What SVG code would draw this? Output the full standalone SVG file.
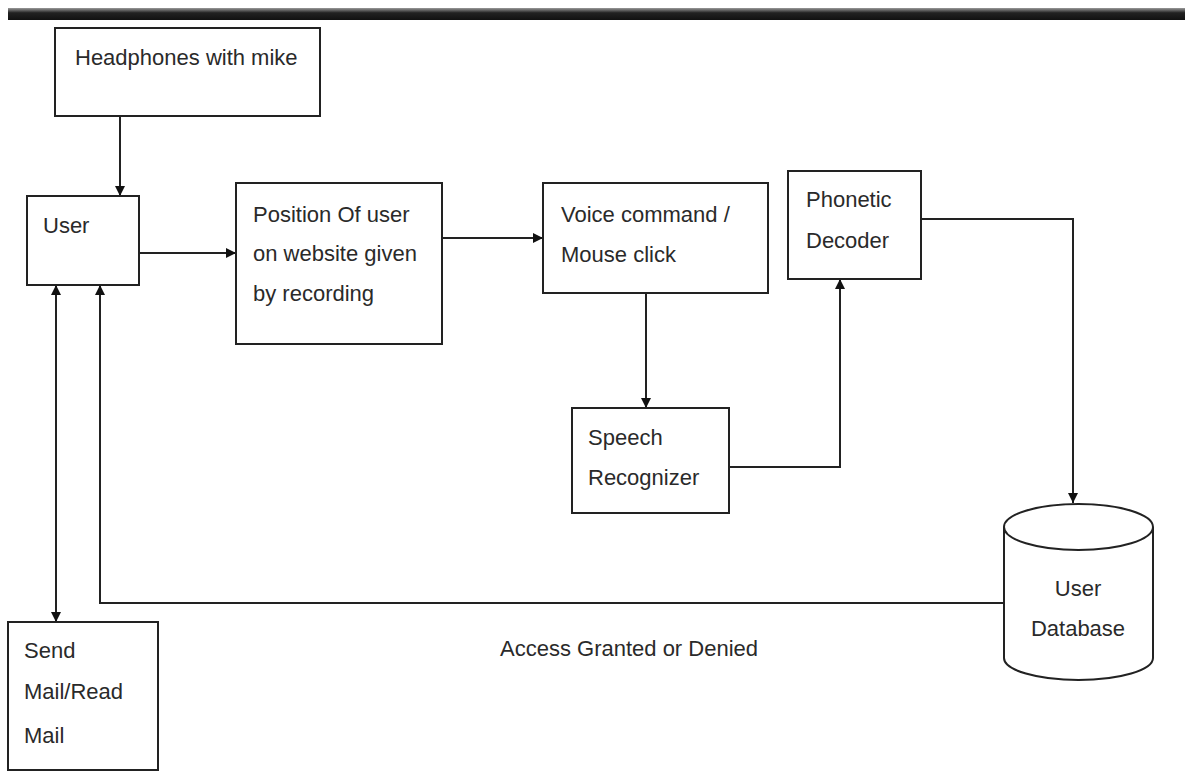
<svg xmlns="http://www.w3.org/2000/svg" width="1185" height="773" viewBox="0 0 1185 773">
<defs>
<linearGradient id="bar" x1="0" y1="0" x2="0" y2="1">
<stop offset="0" stop-color="#9a9a9a"/>
<stop offset="0.4" stop-color="#222"/>
<stop offset="1" stop-color="#111"/>
</linearGradient>
<marker id="ah" viewBox="0 0 10 10" refX="10" refY="5" markerWidth="10" markerHeight="10" markerUnits="userSpaceOnUse" orient="auto-start-reverse">
<path d="M0,0 L10,5 L0,10 z" fill="#111"/>
</marker>
<style>
.box{fill:#fff;stroke:#222;stroke-width:2}
.t{font-family:"Liberation Sans",Arial,sans-serif;font-size:22px;fill:#2a2a2a}
.c{fill:none;stroke:#222;stroke-width:2}
</style>
</defs>
<rect width="1185" height="773" fill="#fff"/>
<rect x="8" y="8" width="1177" height="12" fill="url(#bar)"/>

<g id="connectors">
<path class="c" d="M120,116 V196" marker-end="url(#ah)"/>
<path class="c" d="M139,253 H236" marker-end="url(#ah)"/>
<path class="c" d="M442,238 H543" marker-end="url(#ah)"/>
<path class="c" d="M646,293 V408" marker-end="url(#ah)"/>
<path class="c" d="M729,467 H840 V279" marker-end="url(#ah)"/>
<path class="c" d="M921,219 H1073 V503" marker-end="url(#ah)"/>
<path class="c" d="M1004,603 H100 V285" marker-end="url(#ah)"/>
<path class="c" d="M56,285 V622" marker-start="url(#ah)" marker-end="url(#ah)"/>
</g>

<g id="headphones">
<rect class="box" x="55" y="28" width="265" height="88"/>
<text class="t" x="75" y="65">Headphones with mike</text>
</g>
<g id="user">
<rect class="box" x="27" y="196" width="112" height="89"/>
<text class="t" x="43" y="233">User</text>
</g>
<g id="position">
<rect class="box" x="236" y="183" width="206" height="161"/>
<text class="t" x="253" y="222">Position Of user</text>
<text class="t" x="253" y="261">on website given</text>
<text class="t" x="253" y="301">by recording</text>
</g>
<g id="voice">
<rect class="box" x="543" y="183" width="225" height="110"/>
<text class="t" x="561" y="222">Voice command /</text>
<text class="t" x="561" y="262">Mouse click</text>
</g>
<g id="speech">
<rect class="box" x="572" y="408" width="157" height="105"/>
<text class="t" x="588" y="445">Speech</text>
<text class="t" x="588" y="485">Recognizer</text>
</g>
<g id="phonetic">
<rect class="box" x="788" y="171" width="133" height="108"/>
<text class="t" x="806" y="207">Phonetic</text>
<text class="t" x="806" y="248">Decoder</text>
</g>
<g id="database">
<path class="box" d="M1004,527 V658 A74.5,22 0 0 0 1153,658 V527"/>
<ellipse class="box" cx="1078.5" cy="527" rx="74.5" ry="23"/>
<text class="t" x="1078" y="596" text-anchor="middle">User</text>
<text class="t" x="1078" y="636" text-anchor="middle">Database</text>
</g>
<g id="sendmail">
<rect class="box" x="8" y="622" width="150" height="148"/>
<text class="t" x="24" y="658">Send</text>
<text class="t" x="24" y="699">Mail/Read</text>
<text class="t" x="24" y="743">Mail</text>
</g>
<g id="label">
<text class="t" x="500" y="656">Access Granted or Denied</text>
</g>
</svg>
